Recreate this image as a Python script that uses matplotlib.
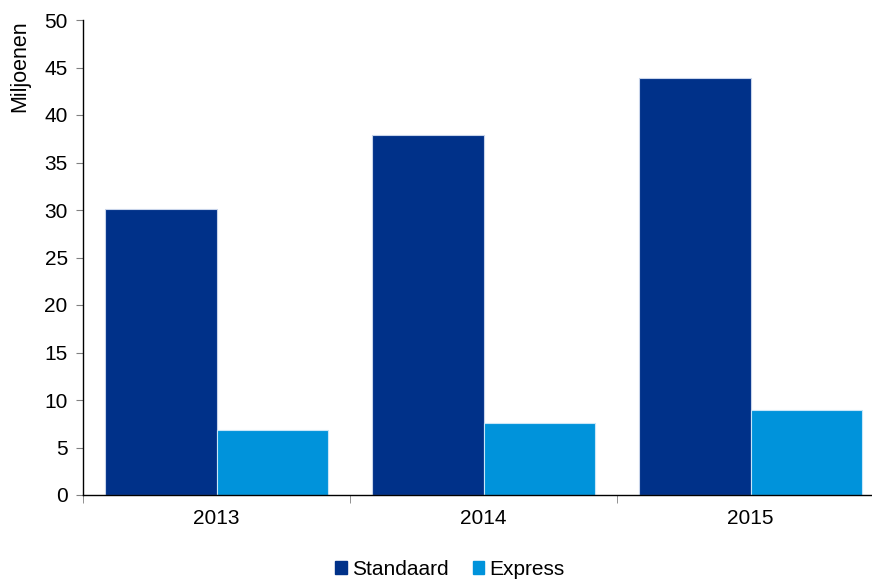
import numpy as np
import matplotlib.pyplot as plt
from matplotlib.patches import Patch

plt.rcParams['font.family'] = ['Liberation Sans', 'DejaVu Sans']

years = ['2013', '2014', '2015']
standaard = [30.1, 37.9, 43.9]
express = [6.8, 7.6, 8.9]

c_std = '#003189'
c_exp = '#0093DB'

fig = plt.figure(figsize=(8.72, 5.8), dpi=100)
# axes runs a little past the right edge, like the original
ax = fig.add_axes([83/872, 85/580, 801/872, 475/580])

x = np.arange(len(years))
w = 0.416
ax.bar(x - w/2, standaard, w, color=c_std, edgecolor='#c8d4ea', linewidth=0.8)
ax.bar(x + w/2, express, w, color=c_exp, edgecolor='#c8e6f8', linewidth=0.8)

ax.set_xlim(-0.5, len(years) - 0.5)
ax.set_ylim(0, 50)
ax.set_yticks(range(0, 51, 5))
ax.set_xticks(x)
ax.set_xticklabels(years)
ax.set_xticks(np.arange(-0.5, len(years), 1), minor=True)
ax.tick_params(axis='x', which='major', length=0, labelsize=15, pad=10)
ax.tick_params(axis='x', which='minor', length=6, color='#808080', direction='out')
ax.tick_params(axis='y', length=5, color='#808080', labelsize=15, pad=6)

for s in ['top', 'right']:
    ax.spines[s].set_visible(False)
ax.spines['left'].set_linewidth(1.0)
ax.spines['bottom'].set_linewidth(1.0)

ax.set_ylabel('Miljoenen', fontsize=15.5, loc='top')
ax.yaxis.set_label_coords(-0.066, 1.0)

handles = [Patch(color=c_std, label='Standaard'), Patch(color=c_exp, label='Express')]
fig.legend(handles=handles, loc='lower center', bbox_to_anchor=(0.516, -0.03), ncol=2,
           frameon=False, fontsize=15, handlelength=0.55, handleheight=0.55,
           handletextpad=0.25, columnspacing=1.15)

fig.savefig('out.png', dpi=100)
